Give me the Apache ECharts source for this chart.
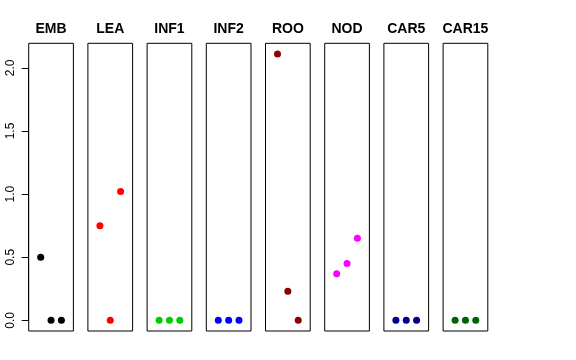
<!DOCTYPE html>
<html>
<head>
<meta charset="utf-8">
<script src="https://cdn.jsdelivr.net/npm/echarts@6/dist/echarts.min.js"></script>
<style>html,body{margin:0;padding:0;background:#fff}#c{width:576px;height:360px}</style>
</head>
<body>
<div id="c"></div>
<script>
// Data
var categories = ['EMB', 'LEA', 'INF1', 'INF2', 'ROO', 'NOD', 'CAR5', 'CAR15'];
var colors = ['#000000', '#FF0000', '#00CD00', '#0000FF', '#8B0000', '#FF00FF', '#00008B', '#006400'];
var EMB = [0.50, 0, 0];
var LEA = [0.75, 0, 1.02];
var INF1 = [0, 0, 0];
var INF2 = [0, 0, 0];
var ROO = [2.11, 0.23, 0];
var NOD = [0.37, 0.45, 0.65];
var CAR5 = [0, 0, 0];
var CAR15 = [0, 0, 0];
var seriesValues = [EMB, LEA, INF1, INF2, ROO, NOD, CAR5, CAR15];
var xPositions = [1, 2, 3];
var yTicks = [0, 0.5, 1.0, 1.5, 2.0];

var yMin = -0.0844, yMax = 2.1944;
var xMin = -0.16, xMax = 4.16;
var panelTop = 43.3, panelH = 287.7, panelW = 44.7, panelLeft0 = 28.7, panelStep = 59.2;

var chart = echarts.init(document.getElementById('c'), null, {renderer: 'canvas'});
var grids = [], xAxes = [], yAxes = [], series = [], graphics = [];
categories.forEach(function (name, i) {
  var left = panelLeft0 + panelStep * i;
  grids.push({left: left, top: panelTop, width: panelW, height: panelH, show: true,
    borderColor: '#000', borderWidth: 1, backgroundColor: 'transparent'});
  xAxes.push({gridIndex: i, type: 'value', min: xMin, max: xMax, show: false});
  yAxes.push({gridIndex: i, type: 'value', min: yMin, max: yMax, show: false});
  series.push({
    type: 'scatter', xAxisIndex: i, yAxisIndex: i, symbol: 'circle', symbolSize: 7,
    itemStyle: {color: colors[i], opacity: 1},
    data: seriesValues[i].map(function (v, k) { return [xPositions[k], v]; }),
    silent: true, animation: false
  });
  graphics.push({type: 'text', x: left + panelW / 2, y: 29.5,
    style: {text: name, fontFamily: 'Liberation Sans, Arial, sans-serif', fontWeight: 'bold',
      fontSize: 14, fill: '#000', align: 'center', verticalAlign: 'middle'}});
});
// separate axis grid spanning exactly 0..2.0
var pxPerUnit = panelH / (yMax - yMin);
var axTop = panelTop + (yMax - yTicks[yTicks.length - 1]) * pxPerUnit;
var axH = (yTicks[yTicks.length - 1] - yTicks[0]) * pxPerUnit;
var ai = categories.length;
grids.push({left: panelLeft0, top: axTop, width: panelW, height: axH, show: false});
xAxes.push({gridIndex: ai, type: 'value', min: 0, max: 1, show: false});
yAxes.push({gridIndex: ai, type: 'value', min: yTicks[0], max: yTicks[yTicks.length - 1], interval: 0.5,
  position: 'left',
  axisLine: {show: true, lineStyle: {color: '#000', width: 1}},
  axisTick: {show: true, length: 7, lineStyle: {color: '#000'}},
  splitLine: {show: false},
  axisLabel: {show: true, rotate: 90, margin: 12, fontSize: 12, color: '#000',
    fontFamily: 'Liberation Sans, Arial, sans-serif',
    formatter: function (v) { return v.toFixed(1); }}
});

chart.setOption({
  animation: false,
  backgroundColor: '#fff',
  grid: grids, xAxis: xAxes, yAxis: yAxes, series: series, graphic: graphics
});
</script>
</body>
</html>
